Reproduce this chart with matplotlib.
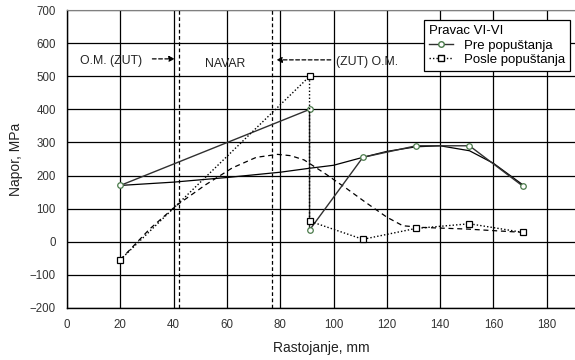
import matplotlib
matplotlib.use("Agg")
import matplotlib.pyplot as plt
from matplotlib.lines import Line2D

plt.rcParams['font.family'] = ['Liberation Sans', 'DejaVu Sans']

# Measured data: "Pre popuštanja" (before annealing)
pre_x = [20, 91, 91, 111, 131, 151, 171]
pre_y = [170, 400, 35, 255, 290, 290, 168]
# Smooth trend line for "Pre popuštanja"
pre_trend_x = [20, 40, 60, 80, 91, 100, 111, 120, 131, 140, 151, 160, 171]
pre_trend_y = [170, 180, 194, 210, 222, 231, 255, 273, 287, 290, 275, 237, 172]

# Measured data: "Posle popuštanja" (after annealing)
posle_x = [20, 91, 91, 111, 131, 151, 171]
posle_y = [-55, 500, 62, 7, 40, 54, 28]
# Smooth trend line for "Posle popuštanja"
posle_trend_x = [20, 31, 41, 52, 62, 71, 79, 84, 89, 97, 105, 112, 120, 126, 133, 150, 171]
posle_trend_y = [-55, 38, 109, 172, 223, 255, 264, 260, 247, 205, 160, 119, 74, 48, 43, 38, 28]

zone_lines = [42, 77]
x_ticks = [0, 20, 40, 60, 80, 100, 120, 140, 160, 180]
y_ticks = [-200, -100, 0, 100, 200, 300, 400, 500, 600, 700]

fig = plt.figure(figsize=(5.75, 3.6), dpi=100)
ax = fig.add_axes([67/575, 1 - 307.7/360, 1 - 67/575, (307.7 - 10.3)/360])

ax.set_xlim(0, 190.6)
ax.set_ylim(-200, 700)
ax.set_xticks(x_ticks)
ax.set_yticks(y_ticks)
ax.grid(True, color='black', linewidth=0.9)
ax.set_axisbelow(True)
ax.tick_params(axis='x', length=0, labelsize=8.3, pad=8, labelcolor='#333333')
ax.tick_params(axis='y', length=0, labelsize=8.3, pad=8, labelcolor='#333333')
for s in ['left', 'bottom']:
    ax.spines[s].set_color('black')
    ax.spines[s].set_linewidth(1.0)
ax.spines['top'].set_color('#808080')
ax.spines['right'].set_visible(False)

for xv in zone_lines:
    ax.axvline(xv, color='black', linestyle=(0, (3, 2)), linewidth=0.9)

# trend curves
ax.plot(pre_trend_x, pre_trend_y, color='black', linewidth=0.9, linestyle='-')
ax.plot(posle_trend_x, posle_trend_y, color='black', linewidth=0.9, linestyle=(0, (4, 3)))

# data lines
ax.plot(pre_x, pre_y, color='#303030', linewidth=1.0, linestyle='-',
        marker='o', markersize=4, markerfacecolor='white',
        markeredgecolor='#4a7a4a', markeredgewidth=0.9)
ax.plot(posle_x, posle_y, color='black', linewidth=1.0, linestyle=(0, (1, 1.5)),
        marker='s', markersize=5, markerfacecolor='white',
        markeredgecolor='black', markeredgewidth=0.9)

# annotations
ax.text(4.9, 548, 'O.M. (ZUT)', fontsize=8.8, va='center', ha='left', color='#222222')
ax.annotate('', xy=(41.5, 553), xytext=(31, 553),
            arrowprops=dict(arrowstyle='-|>', linestyle=(0, (3, 2)), color='black',
                            linewidth=0.9, mutation_scale=8))
ax.text(59.5, 536, 'NAVAR', fontsize=8.8, va='center', ha='center', color='#222222')
ax.text(101, 545, '(ZUT) O.M.', fontsize=8.8, va='center', ha='left', color='#222222')
ax.annotate('', xy=(77.5, 550), xytext=(100, 550),
            arrowprops=dict(arrowstyle='-|>', linestyle=(0, (3, 2)), color='black',
                            linewidth=0.9, mutation_scale=8))

ax.set_xlabel('Rastojanje, mm', fontsize=10, labelpad=7, color='#222222')
ax.set_ylabel('Napor, MPa', fontsize=10, labelpad=5, color='#222222')

handles = [
    Line2D([], [], color='#303030', linewidth=1.0, marker='o', markersize=4,
           markerfacecolor='white', markeredgecolor='#4a7a4a'),
    Line2D([], [], color='black', linewidth=1.0, linestyle=(0, (1, 1.5)), marker='s',
           markersize=5, markerfacecolor='white', markeredgecolor='black'),
]
leg = ax.legend(handles, ['Pre popuštanja', 'Posle popuštanja'], title='Pravac VI-VI',
                loc='upper right', bbox_to_anchor=(0.99, 0.967), fontsize=9.5,
                title_fontsize=9.5, frameon=True, fancybox=False, framealpha=1,
                edgecolor='black', handlelength=1.8, handletextpad=0.8,
                borderpad=0.4, labelspacing=0.15, borderaxespad=0)
leg._legend_box.align = 'left'
leg.get_frame().set_linewidth(0.9)

fig.savefig('out.png', dpi=100)
